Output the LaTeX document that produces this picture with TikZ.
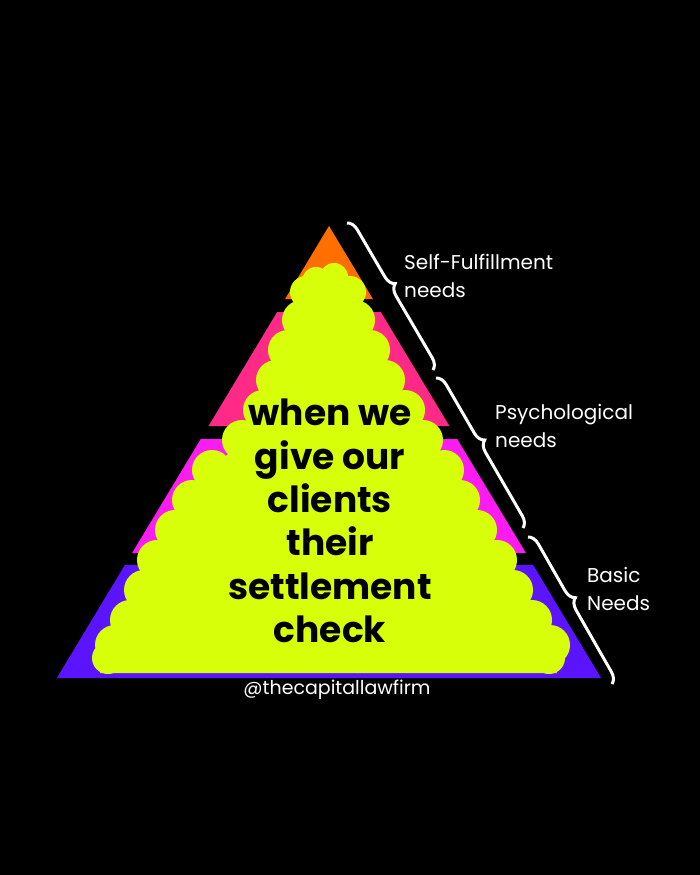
\documentclass[tikz,border=0pt]{standalone}
\usepackage{fontspec}
\setmainfont{Poppins}
\usetikzlibrary{decorations.pathreplacing}
\definecolor{tierorange}{HTML}{FF6F00}
\definecolor{tierpink}{HTML}{FF2A88}
\definecolor{tiermagenta}{HTML}{FA1CF0}
\definecolor{tierpurple}{HTML}{5A14FF}
\definecolor{blob}{HTML}{D8FF0A}
\begin{document}
\begin{tikzpicture}[x=1pt,y=-1pt,
  bracestyle/.style={draw=white,line width=3pt,decorate,decoration={brace,amplitude=11pt,aspect=0.45}},
  lab/.style={text=white,font=\fontsize{20}{28}\selectfont,align=left,anchor=west,inner sep=0pt}]
\fill[black] (0,0) rectangle (700,875);
\useasboundingbox (0,0) rectangle (700,875);
% tiers
\fill[tierorange] (329,226) -- (372.9,299) -- (285.1,299) -- cycle;
\fill[tierpink] (277.2,312) -- (380.8,312) -- (449.4,426) -- (208.6,426) -- cycle;
\fill[tiermagenta] (200.8,439) -- (457.2,439) -- (525.9,553) -- (132.1,553) -- cycle;
\fill[tierpurple] (124.9,565) -- (533.1,565) -- (601.1,678) -- (56.9,678) -- cycle;
% lime blob
\fill[blob] (316,280) -- (306,290) -- (302,320) -- (288,350) -- (276,380) -- (263,410) -- (242,440)
  -- (212,470) -- (192,500) -- (175,530) -- (157,560) -- (144,590) -- (130,620) -- (115,645) -- (108,658) -- (100,673)
  -- (557,673) -- (549,658) -- (550,645) -- (532,620) -- (513,590) -- (497,560) -- (477,530) -- (460,500)
  -- (444,470) -- (423,440) -- (405,410) -- (385,380) -- (370,350) -- (355,320) -- (350,290) -- (334,276) -- cycle;
\foreach \x/\y/\r in {316/281/14,334/277/14,306/292/16,302/320/20,288/350/20,276/380/20,263/410/20,242/440/20,
  212/470/20,192/500/20,175/530/20,157/560/20,144/590/20,130/620/20,115/645/20,108/658/16,
  350/292/16,355/320/20,370/350/20,385/380/20,405/410/20,423/440/20,444/470/20,460/500/20,477/530/20,
  497/560/20,513/590/20,532/620/20,550/645/20,549/658/16}
  \fill[blob] (\x,\y) circle[radius=\r];
% main text
\node[font=\fontsize{36}{43.4}\selectfont\bfseries,align=center,text=black,inner sep=0pt] (msg) at (330,521)
  {when we\\give our\\clients\\their\\settlement\\check};
% braces
\coordinate (b1s) at (347,223);
\coordinate (b1e) at (433,370);
\coordinate (b2s) at (436,378);
\coordinate (b2e) at (523,528);
\coordinate (b3s) at (528,537);
\coordinate (b3e) at (612,684);
\draw[bracestyle] (b1s) -- (b1e);
\draw[bracestyle] (b2s) -- (b2e);
\draw[bracestyle] (b3s) -- (b3e);
% labels
\node[lab] (l1) at (404,276) {Self-Fulfillment\\needs};
\node[lab] (l2) at (495,426) {Psychological\\needs};
\node[lab] (l3) at (587,589) {Basic\\Needs};
\node[text=white,font=\fontsize{19}{28}\selectfont,inner sep=0pt] (handle) at (337,690) {@thecapitallawfirm};
\end{tikzpicture}
\end{document}
